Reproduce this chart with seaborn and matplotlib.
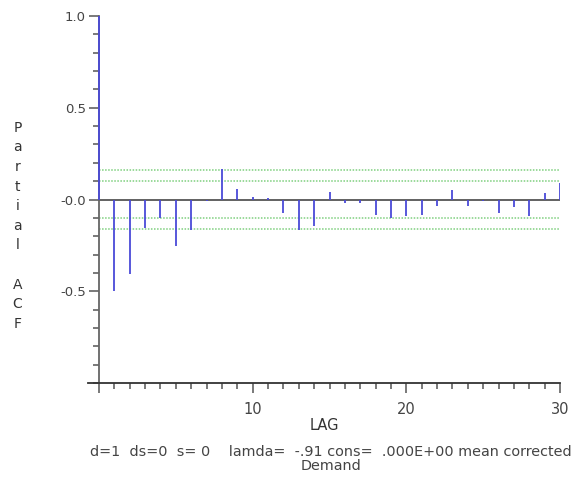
import numpy as np
import matplotlib
matplotlib.use("Agg")
import matplotlib.pyplot as plt
import seaborn as sns
from matplotlib.ticker import MultipleLocator, FixedLocator, FuncFormatter

# partial autocorrelations, lag 0..30
lags = list(range(0, 31))
pacf = [1.0, -0.50, -0.404, -0.154, -0.10, -0.254, -0.168, -0.009, 0.165, 0.058,
        0.013, 0.007, -0.076, -0.165, -0.143, 0.042, -0.020, -0.020, -0.083, -0.103,
        -0.089, -0.083, -0.038, 0.053, -0.033, -0.009, -0.071, -0.043, -0.089, 0.038,
        0.092]
# confidence bands (two levels)
bands = [0.103, 0.163]

sns.set_style("ticks")
plt.rcParams["font.family"] = ["DejaVu Sans"]

fig = plt.figure(figsize=(5.82, 4.79), dpi=100)
ax = fig.add_axes([0.1516, 0.2004, 0.8107, 0.7662])

ax.vlines(lags, 0, pacf, color="#4a4ad8", lw=1.3, zorder=3)
ax.plot([0, 30], [0, 0], color="#555555", lw=1.3, zorder=2)
for b in bands:
    for s in (1, -1):
        ax.plot([0, 30], [s * b, s * b], color="#7ed07e", lw=1.1, ls=(0, (1, 1)), zorder=1)

ax.set_xlim(-0.7, 30)
ax.set_ylim(-1.0, 1.0)

for sp in ("top", "right"):
    ax.spines[sp].set_visible(False)
ax.spines["left"].set_position(("data", 0))
ax.spines["left"].set_color("#666666")
ax.spines["bottom"].set_color("#333333")
ax.spines["left"].set_linewidth(1.3)
ax.spines["bottom"].set_linewidth(1.3)

ax.xaxis.set_major_locator(FixedLocator([0, 10, 20, 30]))
ax.xaxis.set_minor_locator(MultipleLocator(1))
ax.xaxis.set_major_formatter(FuncFormatter(lambda v, p: "" if v == 0 else f"{int(v)}"))
ax.yaxis.set_major_locator(FixedLocator([-0.5, 0.0, 0.5, 1.0]))
ax.yaxis.set_minor_locator(MultipleLocator(0.1))
ax.yaxis.set_major_formatter(FuncFormatter(lambda v, p: "-0.0" if v == 0 else f"{v:.1f}"))
ax.tick_params(axis="both", which="major", length=7.5, width=1.1, color="#555555",
               labelsize=9.5, labelcolor="#444444", direction="out",
               bottom=True, left=True)
ax.tick_params(axis="both", which="minor", length=4, width=1.1, color="#555555",
               direction="out", bottom=True, left=True)
ax.tick_params(axis="x", pad=6, labelsize=10.5)
ax.tick_params(axis="y", pad=2)

ax.set_xlabel("LAG", fontsize=10.5, color="#333333", labelpad=1)
ax.set_ylabel("")
fig.text(0.030, 0.748, "P\na\nr\nt\ni\na\nl\n\nA\nC\nF", ha="center", va="top",
         fontsize=10, color="#333333", linespacing=1.51)

fig.text(0.568, 0.056, "d=1  ds=0  s= 0    lamda=  -.91 cons=  .000E+00 mean corrected",
         ha="center", va="center", fontsize=10.4, color="#444444")
fig.text(0.568, 0.027, "Demand", ha="center", va="center", fontsize=10.4, color="#444444")

fig.savefig("out.png", dpi=100)
